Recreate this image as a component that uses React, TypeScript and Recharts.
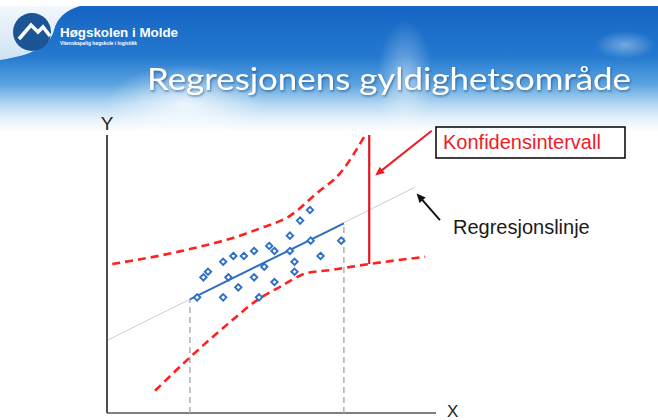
import React from "react";
import {
  ComposedChart,
  Line,
  Scatter,
  XAxis,
  YAxis,
  ReferenceLine,
} from "recharts";

const sampleX = [2.74, 2.93, 3.07, 3.53, 3.53, 3.69, 3.84, 3.99, 4.16, 4.47, 4.47, 4.62, 4.78, 4.93, 5.09, 5.09, 5.56, 5.56, 5.7, 5.7, 5.87, 6.17, 6.19, 6.49, 7.12];
const sampleY = [4.16, 4.88, 5.08, 4.16, 5.44, 4.88, 5.65, 4.52, 5.65, 5.83, 4.88, 4.16, 5.26, 6.01, 5.83, 4.71, 6.38, 5.83, 5.44, 5.08, 6.92, 7.3, 6.2, 5.65, 6.2];

// regression line, extended and within the observed range
const lineX = [0.04, 9.36];
const lineY = [2.63, 8.12];
const rangeX = [2.52, 7.2];
const rangeY = [4.09, 6.82];

// confidence band
const upperX = [0.16, 2.16, 4.19, 4.65, 5.56, 6.37, 7.08, 7.87];
const upperY = [5.36, 5.8, 6.44, 6.64, 7.09, 7.9, 8.62, 10.04];
const lowerX = [1.46, 2.52, 3.64, 4.65, 5.26, 6.07, 6.78, 7.97, 9.67];
const lowerY = [0.8, 2.0, 3.17, 4.13, 4.54, 5.03, 5.14, 5.36, 5.62];

const intervalX = 7.97;

const zip = (xs: number[], ys: number[]) => xs.map((x, i) => ({ x, y: ys[i] }));

const samples = zip(sampleX, sampleY);
const fullLine = zip(lineX, lineY);
const fitLine = zip(rangeX, rangeY);
const upper = zip(upperX, upperY);
const lower = zip(lowerX, lowerY);

const RED = "#ff2020";
const BLUE = "#2e6fc7";
const FONT = "Liberation Sans, Arial, sans-serif";

const Diamond = (props: any) => {
  const { cx, cy } = props;
  const r = 3.2;
  return (
    <polygon
      points={`${cx},${cy - r} ${cx + r},${cy} ${cx},${cy + r} ${cx - r},${cy}`}
      fill="#fff"
      stroke={BLUE}
      strokeWidth={1.9}
    />
  );
};

const arrow = (color: string, width: number) => (props: any) => {
  const { x1, y1, x2, y2 } = props;
  const a = Math.atan2(y2 - y1, x2 - x1);
  const len = 10;
  const spread = 0.42;
  const p1 = [x2 - len * Math.cos(a - spread), y2 - len * Math.sin(a - spread)];
  const p2 = [x2 - len * Math.cos(a + spread), y2 - len * Math.sin(a + spread)];
  return (
    <g>
      <line x1={x1} y1={y1} x2={x2 - 4 * Math.cos(a)} y2={y2 - 4 * Math.sin(a)} stroke={color} strokeWidth={width} />
      <polygon points={`${x2},${y2} ${p1[0]},${p1[1]} ${p2[0]},${p2[1]}`} fill={color} />
    </g>
  );
};

const Header: React.FC = () => (
  <svg width={658} height={132} style={{ position: "absolute", left: 0, top: 0 }}>
    <defs>
      <linearGradient id="sky" x1="0" y1="0" x2="0" y2="1">
        <stop offset="0" stopColor="#1565c4" />
        <stop offset="0.4" stopColor="#2479cf" />
        <stop offset="0.62" stopColor="#5aa3e0" />
        <stop offset="0.78" stopColor="#b4d8f1" />
        <stop offset="0.9" stopColor="#e6f2fb" />
        <stop offset="1" stopColor="#ffffff" />
      </linearGradient>
      <radialGradient id="glow1" cx="0.5" cy="0.5" r="0.5">
        <stop offset="0" stopColor="#ffffff" stopOpacity="0.75" />
        <stop offset="1" stopColor="#ffffff" stopOpacity="0" />
      </radialGradient>
      <linearGradient id="oval" x1="0" y1="0" x2="0" y2="1">
        <stop offset="0" stopColor="#f2f7fc" />
        <stop offset="1" stopColor="#cfe2f3" />
      </linearGradient>
      <filter id="shadow" x="-5%" y="-20%" width="110%" height="150%">
        <feDropShadow dx="1" dy="1.5" stdDeviation="1.2" floodColor="#0a3466" floodOpacity="0.55" />
      </filter>
    </defs>
    <rect x={0} y={6} width={658} height={126} fill="url(#sky)" />
    <ellipse cx={185} cy={105} rx={80} ry={40} fill="url(#glow1)" />
    <ellipse cx={405} cy={80} rx={28} ry={60} fill="url(#glow1)" opacity={0.6} />
    <ellipse cx={625} cy={45} rx={30} ry={14} fill="url(#glow1)" opacity={0.5} />
    <path d="M0 6 H80 C 66 10, 57 18, 54 30 C 51 44, 35 55, 0 60 Z" fill="url(#oval)" />
    <circle cx={32} cy={32} r={19} fill="#1b5596" />
    <polyline
      points="19,39 31,25 38,32 43,27 50,36"
      fill="none"
      stroke="#ffffff"
      strokeWidth={3.5}
      strokeLinejoin="miter"
    />
    <text x={60} y={36.5} fontFamily={FONT} fontWeight="bold" fontSize={13.5} fill="#fff" textLength={118} lengthAdjust="spacingAndGlyphs">
      Høgskolen i Molde
    </text>
    <text x={60} y={44.5} fontFamily={FONT} fontWeight="bold" fontSize={5.6} fill="#fff" textLength={77} lengthAdjust="spacingAndGlyphs">
      Vitenskapelig høgskole i logistikk
    </text>
    <text x={147} y={90} fontFamily="Lato, Open Sans, sans-serif" fontSize={30} fill="#fff" filter="url(#shadow)" textLength={484} lengthAdjust="spacingAndGlyphs">
      Regresjonens gyldighetsområde
    </text>
  </svg>
);

const App: React.FC = () => {
  return (
    <div style={{ position: "absolute", left: 0, top: 0, width: 658, height: 420, background: "#fff", overflow: "hidden" }}>
      <Header />
      <div style={{ position: "absolute", left: 0, top: 0 }}>
        <ComposedChart width={658} height={420} margin={{ top: 135, right: 222, bottom: 7, left: 107 }}>
          <XAxis type="number" dataKey="x" domain={[0, 10]} hide allowDataOverflow />
          <YAxis type="number" dataKey="y" domain={[0, 10]} hide allowDataOverflow />
          {/* axes */}
          <ReferenceLine segment={[{ x: 0, y: 0 }, { x: 0, y: 10 }]} stroke="#222" strokeWidth={1.6} ifOverflow="visible" />
          <ReferenceLine segment={[{ x: 0, y: 0 }, { x: 10, y: 0 }]} stroke="#555" strokeWidth={1.6} ifOverflow="visible" />
          <ReferenceLine segment={[{ x: rangeX[0], y: 0 }, fitLine[0]]} stroke="#b0b0b0" strokeWidth={1.5} strokeDasharray="6 4" ifOverflow="visible" />
          <ReferenceLine segment={[{ x: rangeX[1], y: 0 }, fitLine[1]]} stroke="#b0b0b0" strokeWidth={1.5} strokeDasharray="6 4" ifOverflow="visible" />
          <Line data={fullLine} dataKey="y" stroke="#cccccc" strokeWidth={1} dot={false} isAnimationActive={false} />
          <Line data={fitLine} dataKey="y" stroke={BLUE} strokeWidth={2} dot={false} isAnimationActive={false} />
          <Line data={upper} dataKey="y" type="monotone" stroke={RED} strokeWidth={2.6} strokeDasharray="8 5" dot={false} isAnimationActive={false} />
          <Line data={lower} dataKey="y" type="monotone" stroke={RED} strokeWidth={2.6} strokeDasharray="8 5" dot={false} isAnimationActive={false} />
          <ReferenceLine segment={[{ x: intervalX, y: lowerY[7] }, { x: intervalX, y: 10 }]} stroke="#e8141c" strokeWidth={2.2} ifOverflow="visible" />
          <Scatter data={samples} shape={<Diamond />} isAnimationActive={false} />
          <ReferenceLine segment={[{ x: 9.87, y: 10.15 }, { x: 8.15, y: 8.54 }]} ifOverflow="visible" shape={arrow("#ee1c24", 2)} />
          <ReferenceLine segment={[{ x: 10.12, y: 6.94 }, { x: 9.41, y: 7.9 }]} ifOverflow="visible" shape={arrow("#111", 2)} />
        </ComposedChart>
      </div>
      <svg width={658} height={420} style={{ position: "absolute", left: 0, top: 0, pointerEvents: "none" }}>
        <text x={107} y={130} textAnchor="middle" fontFamily={FONT} fontSize={19} fill="#222">
          Y
        </text>
        <text x={447} y={417} fontFamily={FONT} fontSize={17} fill="#222">
          X
        </text>
        <rect x={436} y={127} width={189} height={31} fill="#fff" stroke="#111" strokeWidth={1.6} />
        <text x={443} y={149} fontFamily={FONT} fontSize={20} fill="#ee1c24">
          Konfidensintervall
        </text>
        <text x={453} y={234} fontFamily={FONT} fontSize={20} fill="#1a1a1a">
          Regresjonslinje
        </text>
      </svg>
    </div>
  );
};

export default App;
